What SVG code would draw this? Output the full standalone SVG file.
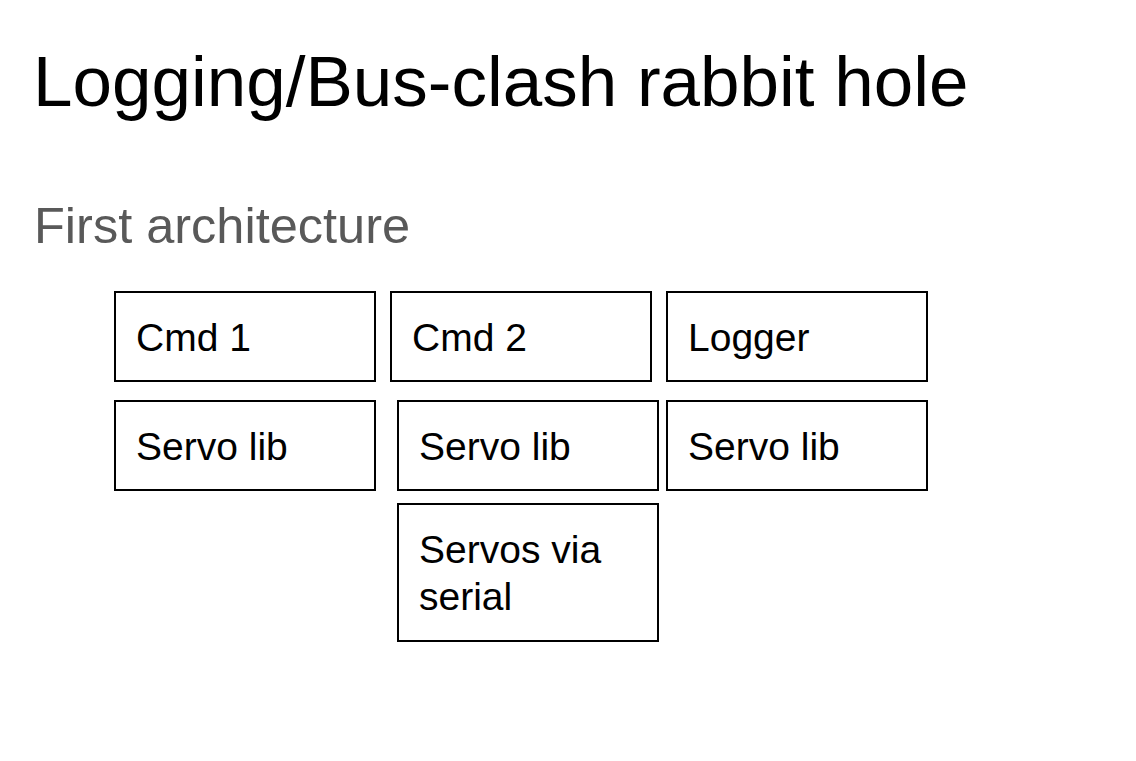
<svg xmlns="http://www.w3.org/2000/svg" width="1136" height="761" viewBox="0 0 1136 761">
<style>
.box{fill:#fff;stroke:#000;stroke-width:2}
.lbl{font-family:"Liberation Sans",Arial,sans-serif;font-size:39px;fill:#000}
</style>
<rect width="1136" height="761" fill="#fff"/>
<text x="33" y="106" font-family="Liberation Sans, Arial, sans-serif" font-size="71" fill="#000">Logging/Bus-clash rabbit hole</text>
<text x="34" y="243" font-family="Liberation Sans, Arial, sans-serif" font-size="50.5" fill="#595959">First architecture</text>
<g id="cmd1"><rect class="box" x="115" y="292" width="260" height="89"/><text class="lbl" x="136" y="351">Cmd 1</text></g>
<g id="cmd2"><rect class="box" x="391" y="292" width="260" height="89"/><text class="lbl" x="412" y="351">Cmd 2</text></g>
<g id="logger"><rect class="box" x="667" y="292" width="260" height="89"/><text class="lbl" x="688" y="351">Logger</text></g>
<g id="servolib1"><rect class="box" x="115" y="401" width="260" height="89"/><text class="lbl" x="136" y="460">Servo lib</text></g>
<g id="servolib2"><rect class="box" x="398" y="401" width="260" height="89"/><text class="lbl" x="419" y="460">Servo lib</text></g>
<g id="servolib3"><rect class="box" x="667" y="401" width="260" height="89"/><text class="lbl" x="688" y="460">Servo lib</text></g>
<g id="servos"><rect class="box" x="398" y="504" width="260" height="137"/><text class="lbl" x="419" y="563">Servos via</text><text class="lbl" x="419" y="610">serial</text></g>
<g id="connectors"/>
</svg>
